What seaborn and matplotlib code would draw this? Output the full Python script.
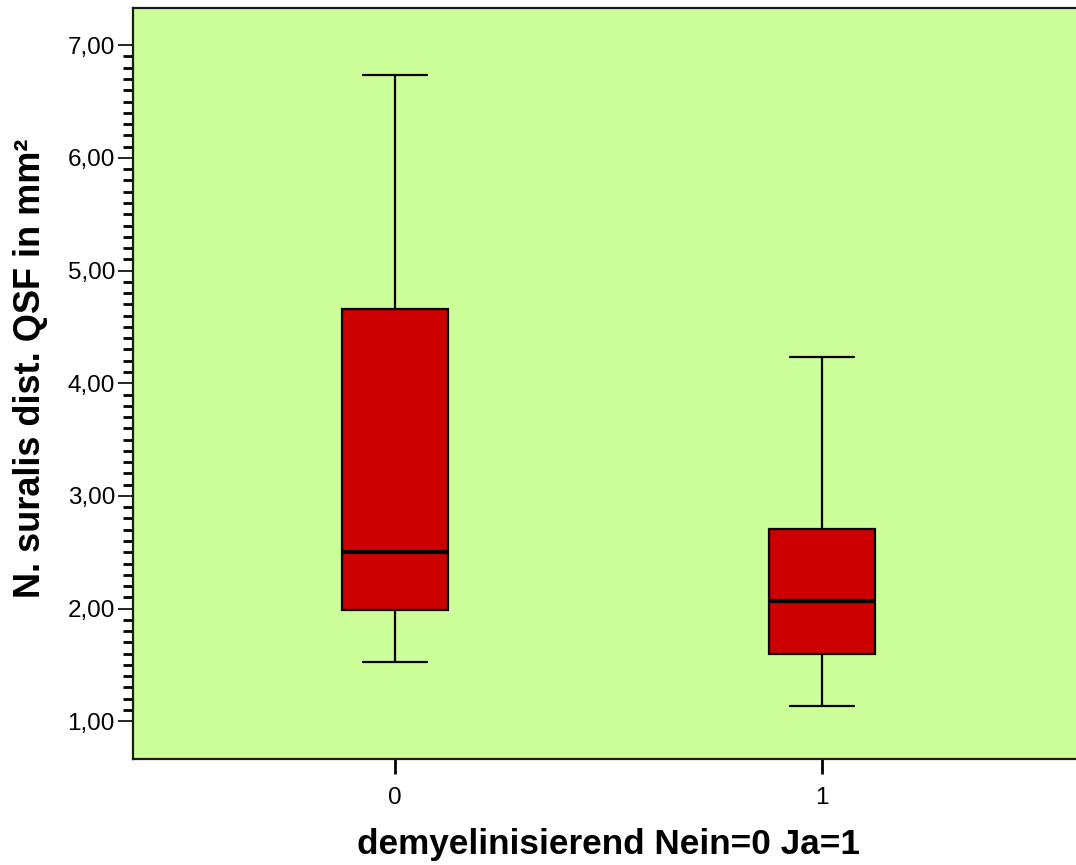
import numpy as np
import pandas as pd
import matplotlib
matplotlib.use('Agg')
import matplotlib.pyplot as plt
from matplotlib.ticker import FixedLocator, FuncFormatter
import seaborn as sns

# five-number summaries (min, Q1, median, Q3, max)
groups = ['0', '1']
group0 = [1.53, 1.99, 2.50, 4.66, 6.74]
group1 = [1.14, 1.60, 2.07, 2.71, 4.23]
major_ticks = [1, 2, 3, 4, 5, 6, 7]

df = pd.DataFrame({
    'gruppe': ['0'] * len(group0) + ['1'] * len(group1),
    'wert': group0 + group1,
})

sns.set_theme(style='ticks')
plt.rcParams['font.family'] = ['Liberation Sans', 'DejaVu Sans']
plt.rcParams['text.color'] = 'black'
plt.rcParams['axes.labelcolor'] = 'black'

fig = plt.figure(figsize=(10.76, 8.65), dpi=100)
ax = fig.add_axes([0.1236, 0.1225, 0.8838, 0.8682])
ax.set_facecolor('#ccff99')

sns.boxplot(data=df, x='gruppe', y='wert', order=groups, ax=ax,
            width=0.25, whis=(0, 100), color='#cc0000', saturation=1,
            linecolor='black', linewidth=1.6,
            capwidths=0.15,
            medianprops=dict(linewidth=3.0, color='black'))

ax.set_xlim(-0.614, 1.614)
ax.set_ylim(0.665, 7.33)

# y ticks: majors with comma decimals, minors every 0.1 between 1 and 7
ax.yaxis.set_major_locator(FixedLocator(major_ticks))
minor = [v / 10 for v in range(11, 70) if v % 10 != 0]
ax.yaxis.set_minor_locator(FixedLocator(minor))
ax.yaxis.set_major_formatter(FuncFormatter(lambda v, p: f'{v:.2f}'.replace('.', ',')))
ax.tick_params(axis='y', which='major', length=11, width=1.2, pad=2, labelsize=17.5,
               colors='black', labelcolor='black')
ax.tick_params(axis='y', which='minor', length=7, width=2.0, color='black')
ax.tick_params(axis='x', which='major', length=11, width=2.0, pad=9, labelsize=17.5,
               colors='black', labelcolor='black')

for side in ['left', 'top', 'bottom', 'right']:
    ax.spines[side].set_color('#1a1a1a')
    ax.spines[side].set_linewidth(1.6)

ax.set_xlabel('demyelinisierend Nein=0 Ja=1', fontsize=25.3, fontweight='bold', color='black')
ax.set_ylabel('N. suralis dist. QSF in mm²', fontsize=26, fontweight='bold', color='black')
ax.xaxis.set_label_coords(0.5, -0.092)
ax.yaxis.set_label_coords(-0.089, 0.52)

fig.savefig('out.png', dpi=100)
plt.close()
